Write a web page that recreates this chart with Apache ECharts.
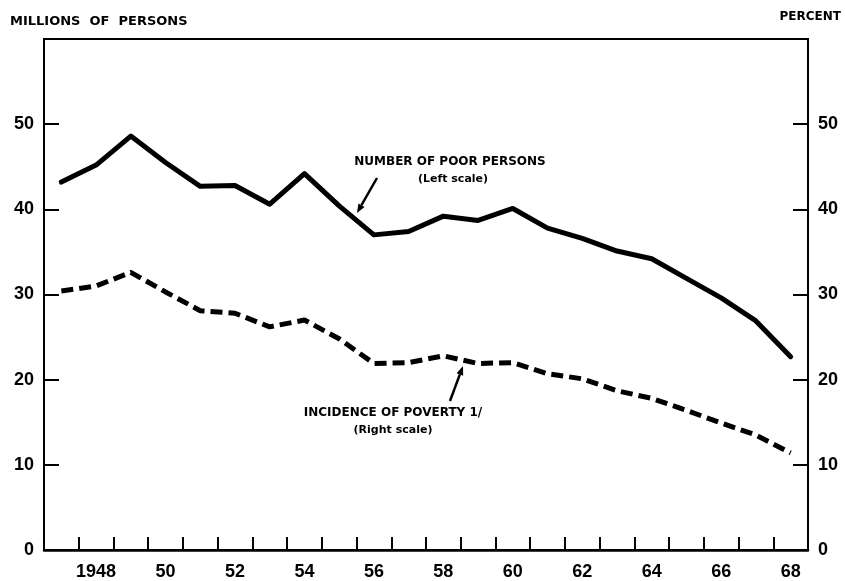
<!DOCTYPE html>
<html>
<head>
<meta charset="utf-8">
<script src="https://cdn.jsdelivr.net/npm/echarts@6/dist/echarts.min.js"></script>
<style>
  html, body { margin: 0; padding: 0; background: #fff; }
  #chart { width: 845px; height: 581px; }
</style>
</head>
<body>
<div id="chart"></div>
<script>
// years 1947 - 1968
const years = ['1947', '1948', '1949', '1950', '1951', '1952', '1953', '1954', '1955', '1956', '1957',
  '1958', '1959', '1960', '1961', '1962', '1963', '1964', '1965', '1966', '1967', '1968']
const xLabels = ['', '1948', '', '50', '', '52', '', '54', '', '56', '', '58', '', '60', '', '62', '', '64', '', '66', '', '68']
// millions of persons (left scale)
const poorPersons = [43.2, 45.2, 48.6, 45.5, 42.7, 42.8, 40.6, 44.2, 40.4, 37.0, 37.4,
  39.2, 38.7, 40.1, 37.8, 36.6, 35.1, 34.2, 31.9, 29.6, 26.9, 22.7]
// percent (right scale)
const incidence = [30.4, 31.0, 32.6, 30.3, 28.1, 27.8, 26.2, 27.0, 24.8, 21.9, 22.0,
  22.8, 21.9, 22.0, 20.7, 20.1, 18.7, 17.8, 16.4, 14.9, 13.5, 11.4]
const yTicks = [0, 10, 20, 30, 40, 50]

const font = 'DejaVu Sans'
const tickFont = 'Liberation Sans'

// small arrow: line plus head at (x2, y2)
function arrow (x1, y1, x2, y2) {
  const a = Math.atan2(y2 - y1, x2 - x1)
  const L = 9
  const W = 3.5
  const bx = x2 - L * Math.cos(a)
  const by = y2 - L * Math.sin(a)
  return [{
    type: 'line',
    shape: { x1: x1, y1: y1, x2: bx, y2: by },
    style: { stroke: '#000', lineWidth: 2.5 }
  }, {
    type: 'polygon',
    shape: {
      points: [[x2, y2],
        [bx + W * Math.sin(a), by - W * Math.cos(a)],
        [bx - W * Math.sin(a), by + W * Math.cos(a)]]
    },
    style: { fill: '#000' }
  }]
}

function yAxis (pos) {
  return {
    type: 'value',
    position: pos,
    min: 0,
    max: 60,
    interval: 10,
    splitLine: { show: false },
    axisLine: { show: true, lineStyle: { color: '#000', width: 2 } },
    axisTick: { show: true, inside: true, length: 15, lineStyle: { color: '#000', width: 2 } },
    axisLabel: {
      margin: 10,
      color: '#000',
      fontFamily: tickFont,
      fontWeight: 'bold',
      fontSize: 18,
      formatter: v => (yTicks.indexOf(v) >= 0 ? String(v) : '')
    }
  }
}

const chart = echarts.init(document.getElementById('chart'))
chart.setOption({
  backgroundColor: '#fff',
  animation: false,
  grid: {
    left: 44,
    right: 37,
    top: 39,
    bottom: 31,
    show: true,
    borderColor: '#000',
    borderWidth: 2
  },
  xAxis: {
    type: 'category',
    data: years,
    boundaryGap: true,
    axisLine: { lineStyle: { color: '#000', width: 2.5 } },
    axisTick: { show: true, inside: true, interval: 0, length: 13, lineStyle: { color: '#000', width: 2 } },
    axisLabel: {
      interval: 0,
      margin: 13,
      color: '#000',
      fontFamily: tickFont,
      fontWeight: 'bold',
      fontSize: 18,
      formatter: (v, i) => xLabels[i]
    }
  },
  yAxis: [yAxis('left'), yAxis('right')],
  series: [{
    name: 'NUMBER OF POOR PERSONS',
    type: 'line',
    yAxisIndex: 0,
    data: poorPersons,
    symbol: 'none',
    lineStyle: { color: '#000', width: 5, cap: 'round', join: 'round' }
  }, {
    name: 'INCIDENCE OF POVERTY',
    type: 'line',
    yAxisIndex: 1,
    data: incidence,
    symbol: 'none',
    lineStyle: { color: '#000', width: 5, type: [12, 6] }
  }],
  graphic: [
    { type: 'text', left: 10, top: 15, style: { text: 'MILLIONS  OF  PERSONS', font: 'bold 13px ' + font, fill: '#000' } },
    { type: 'text', right: 4, top: 11, style: { text: 'PERCENT', font: 'bold 12px ' + font, fill: '#000' } },
    { type: 'text', x: 450, y: 162, style: { text: 'NUMBER OF POOR PERSONS', font: 'bold 12px ' + font, fill: '#000', align: 'center', verticalAlign: 'middle' } },
    { type: 'text', x: 453, y: 179, style: { text: '(Left scale)', font: 'bold 11px ' + font, fill: '#000', align: 'center', verticalAlign: 'middle' } },
    { type: 'text', x: 393, y: 413, style: { text: 'INCIDENCE OF POVERTY 1/', font: 'bold 12px ' + font, fill: '#000', align: 'center', verticalAlign: 'middle' } },
    { type: 'text', x: 393, y: 430, style: { text: '(Right scale)', font: 'bold 11px ' + font, fill: '#000', align: 'center', verticalAlign: 'middle' } }
  ].concat(arrow(377, 178, 357, 213), arrow(450, 401, 463, 366))
})
</script>
</body>
</html>
